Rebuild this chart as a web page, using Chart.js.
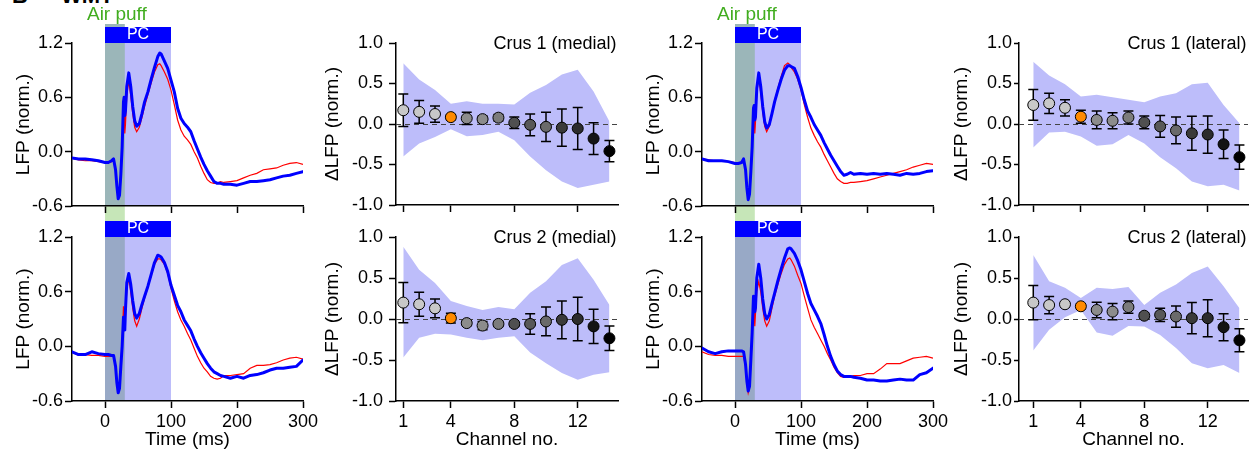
<!DOCTYPE html>
<html>
<head>
<meta charset="utf-8">
<script src="https://cdn.jsdelivr.net/npm/chart.js@4.4.0/dist/chart.umd.min.js"></script>
<style>
  html, body { margin: 0; padding: 0; background: #fff; }
  body { width: 1257px; height: 456px; position: relative; overflow: hidden;
         font-family: "Liberation Sans", Arial, sans-serif; }
  canvas { position: absolute; }
  .tag { position: absolute; font-weight: bold; font-size: 22px; line-height: 22px; color: #000; white-space: nowrap; }
</style>
</head>
<body>
<div class="tag" style="left:12px; top:-15px;">B</div>
<div class="tag" style="left:61px; top:-15px;">WMT</div>

<canvas id="lfpTL"></canvas>
<canvas id="lfpBL"></canvas>
<canvas id="dTL"></canvas>
<canvas id="dBL"></canvas>
<canvas id="lfpTR"></canvas>
<canvas id="lfpBR"></canvas>
<canvas id="dTR"></canvas>
<canvas id="dBR"></canvas>

<script>
// ---------- time course data (ms, normalised LFP) ----------
const timeMs = [-50,-40,-30,-20,-10, 0,5,10,13,16, 18,20,22,24,26, 28,29,30,31,33,
  36,39,42,45,48, 52,56,60,65,70, 75,80,83,85,90, 95,100,105,110,115,
  120,125,130,135,140, 145,150,155,160,165, 170,175,180,190,200, 210,220,230,240,250,
  260,270,280,290,300];

const blueMedialC1 = [-0.07,-0.08,-0.08,-0.09,-0.10, -0.12,-0.12,-0.10,-0.08,-0.20,
  -0.38,-0.52,-0.48,-0.25,0.05, 0.55,0.60,0.40,0.45,0.72,
  0.87,0.72,0.50,0.34,0.28, 0.31,0.42,0.55,0.66,0.80,
  0.93,1.05,1.09,1.08,1.00, 0.92,0.79,0.66,0.48,0.37,
  0.31,0.27,0.22,0.12,0.03, -0.06,-0.14,-0.21,-0.27,-0.33,
  -0.35,-0.35,-0.36,-0.36,-0.37, -0.35,-0.33,-0.33,-0.32,-0.31,
  -0.29,-0.27,-0.26,-0.24,-0.22];
const redMedialC1 = [-0.07,-0.09,-0.10,-0.10,-0.11, -0.12,-0.12,-0.11,-0.10,-0.20,
  -0.38,-0.50,-0.46,-0.24,0.05, 0.40,0.45,0.20,0.30,0.62,
  0.78,0.62,0.42,0.27,0.22, 0.27,0.38,0.50,0.63,0.76,
  0.88,0.96,0.97,0.95,0.88, 0.80,0.68,0.52,0.35,0.24,
  0.17,0.13,0.08,0.00,-0.07, -0.16,-0.24,-0.31,-0.34,-0.35,
  -0.35,-0.33,-0.34,-0.33,-0.32, -0.29,-0.26,-0.24,-0.20,-0.19,
  -0.18,-0.15,-0.13,-0.12,-0.14];

const blueMedialC2 = [-0.06,-0.09,-0.09,-0.06,-0.08, -0.09,-0.09,-0.10,-0.10,-0.22,
  -0.40,-0.51,-0.46,-0.22,0.00, 0.32,0.20,0.18,0.40,0.70,
  0.80,0.68,0.50,0.36,0.31, 0.36,0.46,0.55,0.66,0.79,
  0.92,1.00,0.99,0.98,0.92, 0.82,0.67,0.56,0.45,0.38,
  0.29,0.23,0.17,0.08,0.00, -0.07,-0.13,-0.19,-0.24,-0.28,
  -0.30,-0.32,-0.33,-0.35,-0.33, -0.35,-0.32,-0.31,-0.29,-0.26,
  -0.24,-0.24,-0.23,-0.22,-0.15];
const redMedialC2 = [-0.06,-0.10,-0.09,-0.10,-0.10, -0.11,-0.11,-0.11,-0.11,-0.22,
  -0.40,-0.49,-0.44,-0.20,0.05, 0.44,0.35,0.22,0.35,0.62,
  0.75,0.60,0.42,0.28,0.22, 0.30,0.42,0.53,0.65,0.78,
  0.90,0.96,0.96,0.95,0.90, 0.80,0.64,0.50,0.38,0.29,
  0.22,0.14,0.07,-0.02,-0.11, -0.18,-0.24,-0.28,-0.33,-0.35,
  -0.36,-0.35,-0.32,-0.32,-0.31, -0.30,-0.24,-0.21,-0.21,-0.20,
  -0.18,-0.15,-0.13,-0.12,-0.14];

const blueLateralC1 = [-0.08,-0.10,-0.10,-0.10,-0.11, -0.13,-0.13,-0.12,-0.08,-0.20,
  -0.40,-0.53,-0.47,-0.22,0.05, 0.48,0.51,0.35,0.38,0.70,
  0.87,0.72,0.50,0.33,0.26, 0.30,0.42,0.55,0.68,0.80,
  0.90,0.95,0.95,0.94,0.92, 0.83,0.71,0.57,0.45,0.38,
  0.30,0.24,0.18,0.10,0.03, -0.04,-0.10,-0.16,-0.22,-0.26,
  -0.25,-0.23,-0.25,-0.24,-0.25, -0.24,-0.25,-0.24,-0.25,-0.26,
  -0.24,-0.25,-0.24,-0.22,-0.21];
const redLateralC1 = [-0.08,-0.09,-0.10,-0.10,-0.11, -0.12,-0.12,-0.12,-0.10,-0.20,
  -0.40,-0.51,-0.45,-0.22,0.05, 0.40,0.42,0.20,0.32,0.65,
  0.82,0.65,0.44,0.28,0.22, 0.28,0.42,0.56,0.70,0.83,
  0.95,0.98,0.96,0.93,0.88, 0.80,0.68,0.52,0.38,0.26,
  0.18,0.11,0.05,-0.03,-0.10, -0.17,-0.24,-0.30,-0.33,-0.35,
  -0.35,-0.34,-0.34,-0.33,-0.32, -0.30,-0.28,-0.26,-0.24,-0.22,
  -0.20,-0.17,-0.15,-0.13,-0.14];

const blueLateralC2 = [-0.02,-0.06,-0.08,-0.06,-0.05, -0.05,-0.05,-0.05,-0.06,-0.20,
  -0.38,-0.49,-0.44,-0.15,0.15, 0.55,0.48,0.38,0.42,0.75,
  0.90,0.75,0.52,0.36,0.30, 0.35,0.47,0.58,0.72,0.85,
  0.97,1.07,1.08,1.07,1.02, 0.94,0.84,0.71,0.58,0.47,
  0.40,0.33,0.25,0.13,0.00, -0.11,-0.20,-0.27,-0.31,-0.33,
  -0.33,-0.33,-0.34,-0.35,-0.37, -0.37,-0.38,-0.38,-0.37,-0.36,
  -0.37,-0.37,-0.31,-0.29,-0.24];
const redLateralC2 = [-0.06,-0.09,-0.10,-0.10,-0.11, -0.11,-0.11,-0.11,-0.11,-0.22,
  -0.40,-0.51,-0.45,-0.18,0.10, 0.44,0.38,0.22,0.35,0.60,
  0.71,0.60,0.42,0.28,0.22, 0.28,0.42,0.55,0.68,0.80,
  0.90,0.96,0.97,0.95,0.88, 0.78,0.69,0.55,0.42,0.29,
  0.21,0.14,0.07,0.00,-0.08, -0.15,-0.23,-0.29,-0.33,-0.34,
  -0.34,-0.33,-0.32,-0.32,-0.30, -0.30,-0.25,-0.19,-0.19,-0.19,
  -0.16,-0.13,-0.12,-0.11,-0.13];

const airPuffMs = [0, 30];
const pcWindowMs = [0, 100];
const timeTicks = [0, 100, 200, 300];
const lfpTicks = [-0.6, 0.0, 0.6, 1.2];

// ---------- per-channel data ----------
const channels = [1,2,3,4,5,6,7,8,9,10,11,12,13,14];
const channelTicks = [1, 4, 8, 12];
const deltaTicks = [-1.0, -0.5, 0.0, 0.5, 1.0];

const meanMedialC1 = [0.17,0.15,0.123,0.085,0.07,0.06,0.078,0.015,-0.01,-0.035,-0.045,-0.055,-0.18,-0.335];
const semMedialC1  = [0.20,0.14,0.10,0.03,0.075,0.04,0.04,0.07,0.135,0.18,0.23,0.26,0.195,0.13];
const hiMedialC1   = [0.75,0.55,0.42,0.25,0.28,0.25,0.25,0.24,0.385,0.48,0.61,0.67,0.40,0.03];
const loMedialC1   = [-0.40,-0.24,-0.16,-0.065,-0.15,-0.135,-0.095,-0.20,-0.40,-0.57,-0.71,-0.79,-0.75,-0.71];

const meanMedialC2 = [0.20,0.18,0.13,0.01,-0.05,-0.08,-0.06,-0.06,-0.06,-0.03,-0.01,0.0,-0.09,-0.235];
const semMedialC2  = [0.245,0.145,0.115,0.06,0.03,0.05,0.03,0.03,0.125,0.175,0.23,0.265,0.21,0.15];
const hiMedialC2   = [0.88,0.60,0.44,0.22,0.16,0.11,0.145,0.12,0.32,0.46,0.66,0.74,0.48,0.17];
const loMedialC2   = [-0.47,-0.23,-0.18,-0.19,-0.23,-0.26,-0.23,-0.21,-0.41,-0.54,-0.66,-0.74,-0.68,-0.65];

const meanLateralC1 = [0.235,0.255,0.20,0.09,0.05,0.04,0.08,0.02,-0.03,-0.08,-0.115,-0.13,-0.25,-0.41];
const semLateralC1  = [0.19,0.125,0.10,0.08,0.11,0.10,0.08,0.08,0.135,0.165,0.21,0.23,0.175,0.15];
const hiLateralC1   = [0.77,0.60,0.49,0.34,0.36,0.33,0.30,0.27,0.34,0.38,0.49,0.51,0.235,0.01];
const loLateralC1   = [-0.29,-0.105,-0.095,-0.155,-0.27,-0.25,-0.135,-0.24,-0.41,-0.545,-0.71,-0.77,-0.75,-0.82];

const meanLateralC2 = [0.20,0.17,0.18,0.155,0.11,0.09,0.145,0.04,0.05,0.03,0.01,0.01,-0.10,-0.26];
const semLateralC2  = [0.21,0.105,0.03,0.03,0.095,0.10,0.075,0.03,0.08,0.13,0.19,0.225,0.165,0.14];
const hiLateralC2   = [0.78,0.46,0.38,0.255,0.38,0.365,0.39,0.17,0.32,0.42,0.56,0.64,0.40,0.13];
const loLateralC2   = [-0.385,-0.13,0.02,0.11,-0.165,-0.205,-0.085,-0.09,-0.195,-0.355,-0.54,-0.60,-0.56,-0.66];

// ---------- styles ----------
const FONT = '"Liberation Sans", Arial, sans-serif';
const channelColors = ['#c8c8c8','#c8c8c8','#c8c8c8','#ff8a00','#8c8c8c','#8c8c8c','#7c7c7c',
                       '#505050','#585858','#6a6a6a','#3a3a3a','#2c2c2c','#141414','#000000'];
Chart.defaults.font.family = FONT;
Chart.defaults.color = '#000';

function place(id, box) {
  const c = document.getElementById(id);
  c.width = box.w; c.height = box.h;
  c.style.left = box.left + 'px'; c.style.top = box.top + 'px';
  c.style.width = box.w + 'px'; c.style.height = box.h + 'px';
  return c;
}

function frame(box, area) {
  return {
    padding: { left: 0, top: area.top - box.top, right: box.left + box.w - area.right, bottom: 0 },
    yWidth: area.left - box.left,
    xHeight: box.top + box.h - area.bottom
  };
}

// stimulus shading, PC bar and air-puff marker behind the traces
const stimPlugin = {
  id: 'stim',
  beforeDraw(chart, args, o) {
    const { ctx, chartArea: a, scales: { x } } = chart;
    const p0 = x.getPixelForValue(pcWindowMs[0]), p1 = x.getPixelForValue(pcWindowMs[1]);
    const q0 = x.getPixelForValue(airPuffMs[0]), q1 = x.getPixelForValue(airPuffMs[1]);
    ctx.save();
    ctx.fillStyle = '#bdbdfa';
    ctx.fillRect(p0, a.top, p1 - p0, a.bottom - a.top);
    ctx.fillStyle = o.puffColor;
    ctx.fillRect(q0, a.top - o.puffAbove, q1 - q0, a.bottom - a.top + o.puffAbove);
    if (o.puffBelow) {
      ctx.fillStyle = '#c6e6b8';
      ctx.fillRect(q0, a.bottom, q1 - q0, o.puffBelow);
    }
    ctx.fillStyle = '#0000ff';
    ctx.fillRect(p0, a.top - 16, p1 - p0, 16);
    ctx.fillStyle = '#ffffff';
    ctx.font = '16px ' + FONT;
    ctx.textAlign = 'center';
    ctx.textBaseline = 'middle';
    ctx.fillText('PC', (p0 + p1) / 2, a.top - 8);
    if (o.puffLabel) {
      ctx.fillStyle = '#41ad1f';
      ctx.font = '19px ' + FONT;
      ctx.textBaseline = 'alphabetic';
      ctx.fillText('Air puff', x.getPixelForValue((airPuffMs[0] + airPuffMs[1]) / 2) + 2, 19.5);
    }
    ctx.restore();
  }
};

function makeLfp(id, box, area, blue, red, o) {
  const F = frame(box, area);
  const canvas = place(id, box);
  return new Chart(canvas, {
    type: 'line',
    data: {
      datasets: [
        { data: timeMs.map((t, i) => ({ x: t, y: blue[i] })), borderColor: '#0000ff', borderWidth: 3,
          pointRadius: 0, tension: 0, borderJoinStyle: 'round', borderCapStyle: 'round' },
        { data: timeMs.map((t, i) => ({ x: t, y: red[i] })), borderColor: '#ff0000', borderWidth: 1.2,
          pointRadius: 0, tension: 0 }
      ]
    },
    options: {
      responsive: false, animation: false, devicePixelRatio: 1,
      layout: { padding: F.padding },
      plugins: {
        legend: { display: false }, tooltip: { enabled: false },
        stim: { puffColor: o.puffColor, puffAbove: o.puffAbove, puffBelow: o.puffBelow, puffLabel: o.puffLabel }
      },
      scales: {
        x: {
          type: 'linear', min: -50, max: 300,
          afterBuildTicks: s => { s.ticks = timeTicks.map(v => ({ value: v })); },
          afterFit: s => { s.height = F.xHeight; },
          grid: { drawOnChartArea: false, drawTicks: true, tickLength: 7, tickColor: '#000', tickWidth: 1.5 },
          border: { display: true, color: '#000', width: 1.5 },
          ticks: { display: o.xLabels, autoSkip: false, maxRotation: 0, padding: 3, font: { size: 18 },
                   callback: v => String(v) },
          title: { display: o.xLabels, text: 'Time (ms)', font: { size: 19 }, padding: { top: 0, bottom: 4.6 } }
        },
        y: {
          type: 'linear', min: -0.6, max: 1.2,
          afterBuildTicks: s => { s.ticks = lfpTicks.map(v => ({ value: v })); },
          afterFit: s => { s.width = F.yWidth; },
          grid: { drawOnChartArea: false, drawTicks: true, tickLength: 7, tickColor: '#000', tickWidth: 1.5 },
          border: { display: true, color: '#000', width: 1.5 },
          ticks: { autoSkip: false, padding: 2, font: { size: 18 }, callback: v => v.toFixed(1) },
          title: { display: true, text: 'LFP (norm.)', font: { size: 19 }, padding: { top: o.titlePad, bottom: 0 } }
        }
      }
    },
    plugins: [stimPlugin]
  });
}

// zero reference, error bars and panel label for the channel profiles
const channelPlugin = {
  id: 'chan',
  beforeDatasetDraw(chart, args, o) {
    if (args.index !== 0) return;
    const { ctx, chartArea: a, scales: { x, y } } = chart;
    ctx.save();
    ctx.strokeStyle = '#444';
    ctx.lineWidth = 1;
    ctx.setLineDash([5, 4]);
    const y0 = Math.round(y.getPixelForValue(0)) + 0.5;
    ctx.beginPath(); ctx.moveTo(a.left, y0); ctx.lineTo(a.right, y0); ctx.stroke();
    ctx.setLineDash([]);
    ctx.strokeStyle = '#000';
    ctx.lineWidth = 1.5;
    o.mean.forEach((m, i) => {
      const px = x.getPixelForValue(channels[i]);
      const yt = y.getPixelForValue(m + o.sem[i]);
      const yb = y.getPixelForValue(m - o.sem[i]);
      ctx.beginPath();
      ctx.moveTo(px, yt); ctx.lineTo(px, yb);
      ctx.moveTo(px - 5, yt); ctx.lineTo(px + 5, yt);
      ctx.moveTo(px - 5, yb); ctx.lineTo(px + 5, yb);
      ctx.stroke();
    });
    ctx.restore();
  },
  afterDraw(chart, args, o) {
    const { ctx, chartArea: a } = chart;
    ctx.save();
    ctx.fillStyle = '#000';
    ctx.font = '18px ' + FONT;
    ctx.textAlign = 'right';
    ctx.textBaseline = 'alphabetic';
    ctx.fillText(o.title, a.right - 1.5, a.top + 6);
    ctx.restore();
  }
};

function makeDelta(id, box, area, mean, sem, hi, lo, o) {
  const F = frame(box, area);
  const canvas = place(id, box);
  return new Chart(canvas, {
    type: 'line',
    data: {
      datasets: [
        { data: channels.map((c, i) => ({ x: c, y: mean[i] })), showLine: false,
          pointRadius: 5.5, pointBackgroundColor: channelColors, pointBorderColor: '#000', pointBorderWidth: 1 },
        { data: channels.map((c, i) => ({ x: c, y: hi[i] })), fill: '+1', backgroundColor: '#bdbdfa',
          borderWidth: 0, borderColor: 'rgba(0,0,0,0)', pointRadius: 0, tension: 0 },
        { data: channels.map((c, i) => ({ x: c, y: lo[i] })), fill: false,
          borderWidth: 0, borderColor: 'rgba(0,0,0,0)', pointRadius: 0, tension: 0 }
      ]
    },
    options: {
      responsive: false, animation: false, devicePixelRatio: 1,
      layout: { padding: F.padding },
      plugins: {
        legend: { display: false }, tooltip: { enabled: false },
        chan: { mean: mean, sem: sem, title: o.title }
      },
      scales: {
        x: {
          type: 'linear', min: o.xMin, max: 14.54,
          afterBuildTicks: s => { s.ticks = channelTicks.map(v => ({ value: v })); },
          afterFit: s => { s.height = F.xHeight; },
          grid: { drawOnChartArea: false, drawTicks: true, tickLength: 7, tickColor: '#000', tickWidth: 1.5 },
          border: { display: true, color: '#000', width: 1.5 },
          ticks: { display: o.xLabels, autoSkip: false, maxRotation: 0, padding: 3, font: { size: 18 },
                   callback: v => String(v) },
          title: { display: o.xLabels, text: 'Channel no.', font: { size: 19 }, padding: { top: 0, bottom: 4.6 } }
        },
        y: {
          type: 'linear', min: -1, max: 1,
          afterBuildTicks: s => { s.ticks = deltaTicks.map(v => ({ value: v })); },
          afterFit: s => { s.width = F.yWidth; },
          grid: { drawOnChartArea: false, drawTicks: true, tickLength: o.tickLen, tickColor: '#000', tickWidth: 1.5 },
          border: { display: true, color: '#000', width: 1.5 },
          ticks: { autoSkip: false, padding: o.tickPad, font: { size: 18 }, callback: v => v.toFixed(1) },
          title: { display: true, text: '\u0394LFP (norm.)', font: { size: 19 }, padding: { top: o.titlePad, bottom: 0 } }
        }
      }
    },
    plugins: [channelPlugin]
  });
}

// ---------- medial column ----------
makeLfp('lfpTL', { left: 0, top: 0, w: 330, h: 232 }, { left: 72, right: 303, top: 43, bottom: 206 },
  blueMedialC1, redMedialC1, { puffColor: '#9bb6b9', puffAbove: 19, puffBelow: 15, puffLabel: true, xLabels: false, titlePad: 12.6 });
makeLfp('lfpBL', { left: 0, top: 220, w: 330, h: 236 }, { left: 72, right: 303, top: 237, bottom: 401 },
  blueMedialC2, redMedialC2, { puffColor: '#98a9c6', puffAbove: 0, puffBelow: 0, puffLabel: false, xLabels: true, titlePad: 12.6 });
makeDelta('dTL', { left: 320, top: 0, w: 320, h: 232 }, { left: 396, right: 618, top: 43, bottom: 205 },
  meanMedialC1, semMedialC1, hiMedialC1, loMedialC1,
  { title: 'Crus 1 (medial)', xMin: 0.54, xLabels: false, tickLen: 7, tickPad: 6, titlePad: 1.6 });
makeDelta('dBL', { left: 320, top: 220, w: 320, h: 236 }, { left: 396, right: 618, top: 237, bottom: 401 },
  meanMedialC2, semMedialC2, hiMedialC2, loMedialC2,
  { title: 'Crus 2 (medial)', xMin: 0.54, xLabels: true, tickLen: 7, tickPad: 6, titlePad: 1.6 });

// ---------- lateral column ----------
makeLfp('lfpTR', { left: 630, top: 0, w: 330, h: 232 }, { left: 702, right: 933, top: 43, bottom: 206 },
  blueLateralC1, redLateralC1, { puffColor: '#9bb6b9', puffAbove: 19, puffBelow: 15, puffLabel: true, xLabels: false, titlePad: 12.6 });
makeLfp('lfpBR', { left: 630, top: 220, w: 330, h: 236 }, { left: 702, right: 933, top: 237, bottom: 401 },
  blueLateralC2, redLateralC2, { puffColor: '#98a9c6', puffAbove: 0, puffBelow: 0, puffLabel: false, xLabels: true, titlePad: 12.6 });
makeDelta('dTR', { left: 950, top: 0, w: 307, h: 232 }, { left: 1019, right: 1248, top: 43, bottom: 205 },
  meanLateralC1, semLateralC1, hiLateralC1, loLateralC1,
  { title: 'Crus 1 (lateral)', xMin: 0.10, xLabels: false, tickLen: 5, tickPad: 2, titlePad: 0.6 });
makeDelta('dBR', { left: 950, top: 220, w: 307, h: 236 }, { left: 1019, right: 1248, top: 237, bottom: 401 },
  meanLateralC2, semLateralC2, hiLateralC2, loLateralC2,
  { title: 'Crus 2 (lateral)', xMin: 0.10, xLabels: true, tickLen: 5, tickPad: 2, titlePad: 0.6 });
</script>
</body>
</html>
